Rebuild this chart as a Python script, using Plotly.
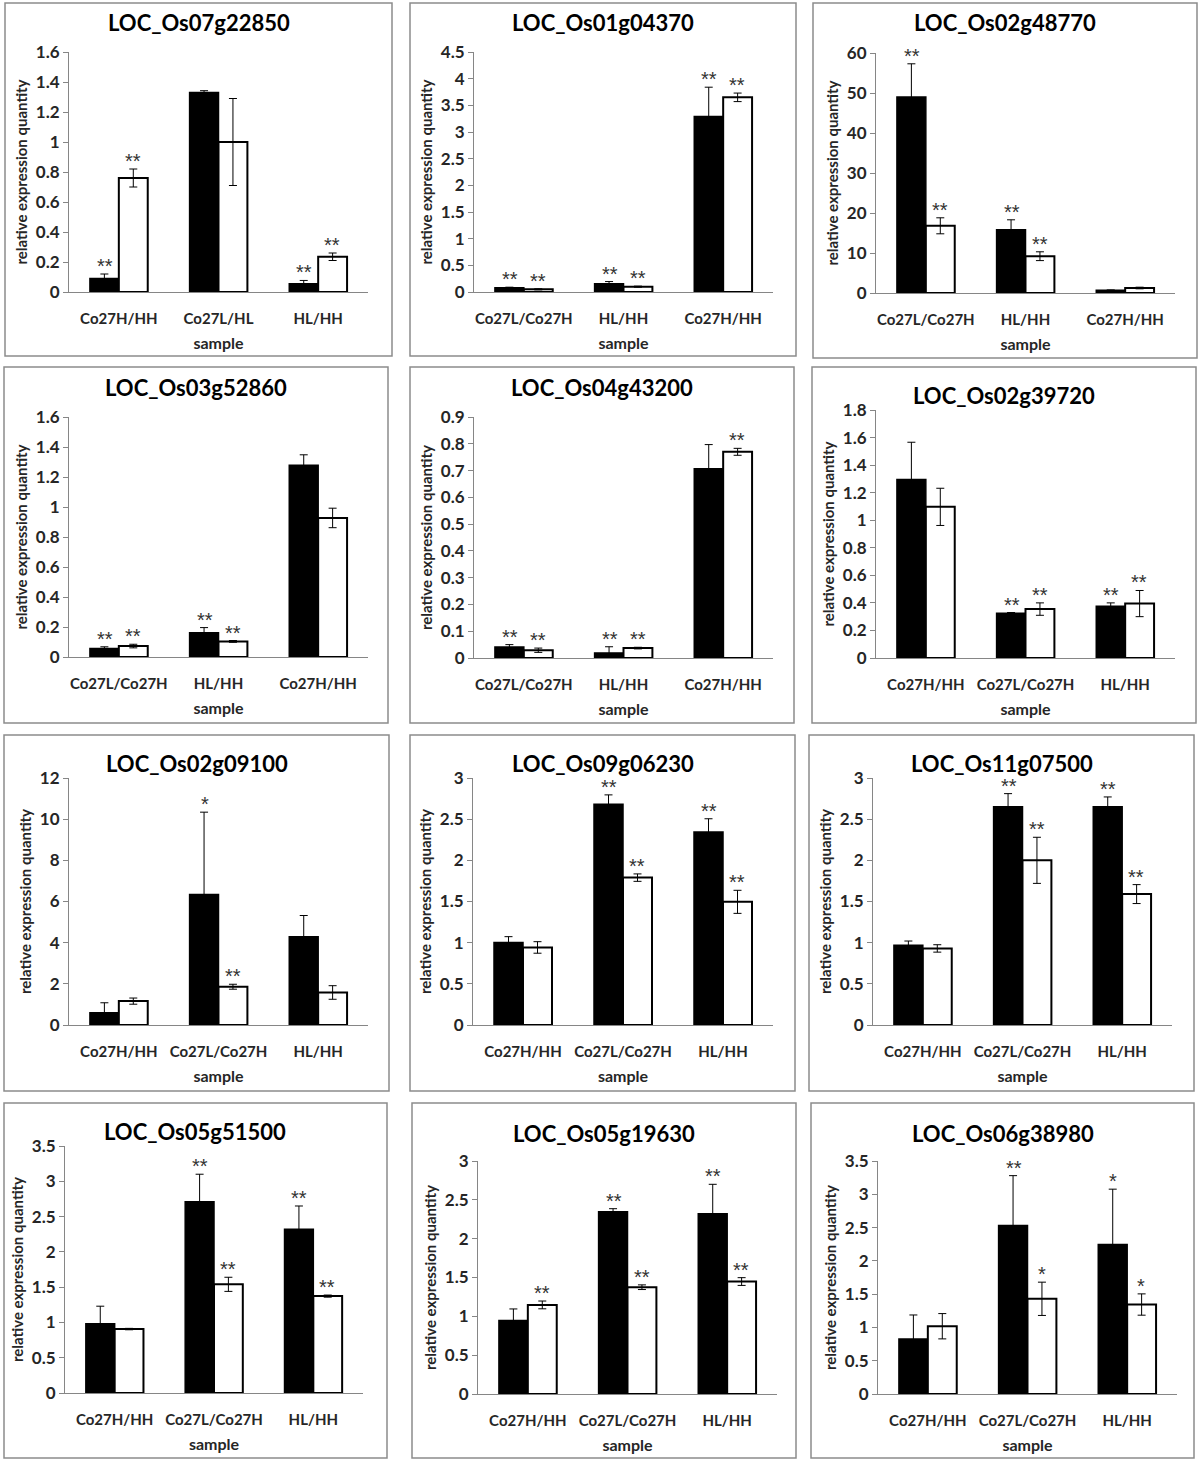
import plotly.graph_objects as go

# ---------------- data ----------------
genes = ["LOC_Os07g22850", "LOC_Os01g04370", "LOC_Os02g48770",
         "LOC_Os03g52860", "LOC_Os04g43200", "LOC_Os02g39720",
         "LOC_Os02g09100", "LOC_Os09g06230", "LOC_Os11g07500",
         "LOC_Os05g51500", "LOC_Os05g19630", "LOC_Os06g38980"]

cats_a = ["Co27H/HH", "Co27L/HL", "HL/HH"]
cats_b = ["Co27L/Co27H", "HL/HH", "Co27H/HH"]
cats_c = ["Co27H/HH", "Co27L/Co27H", "HL/HH"]
panel_cats = [cats_a, cats_b, cats_b, cats_b, cats_b, cats_c,
              cats_c, cats_c, cats_c, cats_c, cats_c, cats_c]

black_vals = [
    [0.09, 1.33, 0.055],
    [0.08, 0.156, 3.29],
    [49.0, 15.8, 0.67],
    [0.056, 0.162, 1.278],
    [0.041, 0.019, 0.707],
    [1.296, 0.325, 0.375],
    [0.6, 6.34, 4.29],
    [1.003, 2.68, 2.345],
    [0.97, 2.65, 2.65],
    [0.98, 2.71, 2.32],
    [0.945, 2.346, 2.32],
    [0.827, 2.53, 2.247],
]
black_err = [
    [0.03, 0.012, 0.022],
    [0.01, 0.04, 0.55],
    [8.3, 2.5, 0.1],
    [0.012, 0.034, 0.07],
    [0.009, 0.023, 0.09],
    [0.27, 0.005, 0.025],
    [0.48, 4.0, 1.03],
    [0.07, 0.115, 0.16],
    [0.05, 0.16, 0.12],
    [0.25, 0.39, 0.33],
    [0.15, 0.04, 0.38],
    [0.36, 0.75, 0.83],
]
white_vals = [
    [0.76, 1.0, 0.235],
    [0.05, 0.10, 3.65],
    [16.8, 9.2, 1.25],
    [0.073, 0.104, 0.927],
    [0.029, 0.037, 0.77],
    [1.097, 0.355, 0.395],
    [1.16, 1.86, 1.58],
    [0.942, 1.79, 1.496],
    [0.93, 2.0, 1.59],
    [0.906, 1.54, 1.373],
    [1.147, 1.375, 1.448],
    [1.018, 1.43, 1.344],
]
white_err = [
    [0.06, 0.29, 0.025],
    [0.01, 0.01, 0.08],
    [2.0, 1.1, 0.2],
    [0.012, 0.006, 0.065],
    [0.008, 0.003, 0.013],
    [0.135, 0.045, 0.095],
    [0.15, 0.12, 0.33],
    [0.07, 0.045, 0.14],
    [0.045, 0.28, 0.115],
    [0.01, 0.1, 0.015],
    [0.05, 0.03, 0.05],
    [0.19, 0.25, 0.16],
]
black_sig = [
    ["**", "", "**"], ["**", "**", "**"], ["**", "**", ""],
    ["**", "**", ""], ["**", "**", ""], ["", "**", "**"],
    ["", "*", ""], ["", "**", "**"], ["", "**", "**"],
    ["", "**", "**"], ["", "**", "**"], ["", "**", "*"],
]
white_sig = [
    ["**", "", "**"], ["**", "**", "**"], ["**", "**", ""],
    ["**", "**", ""], ["**", "**", "**"], ["", "**", "**"],
    ["", "**", ""], ["", "**", "**"], ["", "**", "**"],
    ["", "**", "**"], ["**", "**", "**"], ["", "*", "*"],
]
y_max = [1.6, 4.5, 60, 1.6, 0.9, 1.8, 12, 3, 3, 3.5, 3, 3.5]
y_step = [0.2, 0.5, 10, 0.2, 0.1, 0.2, 2, 0.5, 0.5, 0.5, 0.5, 0.5]

y_title = "relative expression quantity"
x_title = "sample"

# ---------------- layout geometry (pixels) ----------------
W, H = 1200, 1464
boxes = [(5, 3, 392, 356), (410, 3, 796, 356), (813, 3, 1197, 358),
         (4, 367, 388, 723), (410, 367, 794, 723), (812, 367, 1196, 723),
         (4, 735, 389, 1091), (410, 735, 795, 1091), (809, 735, 1194, 1091),
         (4, 1103, 387, 1458), (412, 1103, 796, 1458), (811, 1103, 1194, 1458)]
plots = [(69, 368, 292, 52), (474, 773, 292, 52), (876, 1175, 293, 53),
         (69, 368, 657, 417), (474, 773, 658, 417), (876, 1175, 658, 410),
         (69, 368, 1025, 778), (473, 773, 1025, 778), (873, 1172, 1025, 778),
         (65, 363, 1393, 1146), (478, 777, 1394, 1161), (878, 1177, 1394, 1161)]
title_y = [23, 23, 23, 387, 387, 395, 763, 763, 763, 1131, 1133, 1133]

FONT = "Lato"
TXT = "#262626"
AXC = "#868686"

fig = go.Figure()
shapes = []
annotations = []
layout_axes = {}

for i in range(12):
    n = i + 1
    xa = "x" if n == 1 else f"x{n}"
    ya = "y" if n == 1 else f"y{n}"
    cats = panel_cats[i]
    fig.add_trace(go.Bar(
        x=cats, y=black_vals[i], xaxis=xa, yaxis=ya, showlegend=False,
        marker=dict(color="black", line=dict(color="black", width=1.5)),
        error_y=dict(type="data", array=black_err[i], symmetric=True,
                     color="black", thickness=1, width=4),
        offsetgroup="b"))
    fig.add_trace(go.Bar(
        x=cats, y=white_vals[i], xaxis=xa, yaxis=ya, showlegend=False,
        marker=dict(color="white", line=dict(color="black", width=2)),
        error_y=dict(type="data", array=white_err[i], symmetric=True,
                     color="black", thickness=1, width=4),
        offsetgroup="w"))

    xl, xr, yb, yt = plots[i]
    xkey = "xaxis" if n == 1 else f"xaxis{n}"
    ykey = "yaxis" if n == 1 else f"yaxis{n}"
    layout_axes[xkey] = dict(
        domain=[xl / W, xr / W], anchor=ya, type="category",
        categoryorder="array", categoryarray=cats,
        showline=True, linecolor=AXC, linewidth=1, showgrid=False,
        zeroline=False, ticks="", ticklabelstandoff=13, automargin=False,
        tickfont=dict(family=FONT, size=15, color=TXT, weight="bold"),
        title=dict(text=x_title, standoff=11,
                   font=dict(family=FONT, size=16, color=TXT, weight="bold")),
        fixedrange=True)
    layout_axes[ykey] = dict(
        domain=[1 - yb / H, 1 - yt / H], anchor=xa,
        range=[0, y_max[i]], tick0=0, dtick=y_step[i],
        showline=True, linecolor=AXC, linewidth=1, showgrid=False,
        zeroline=False, ticks="outside", ticklen=5, tickcolor=AXC,
        automargin=False,
        tickfont=dict(family=FONT, size=17, color=TXT, weight="bold"),
        title=dict(text=y_title, standoff=4,
                   font=dict(family=FONT, size=15, color=TXT, weight="bold")),
        fixedrange=True)

    bx0, by0, bx1, by1 = boxes[i]
    shapes.append(dict(type="rect", xref="paper", yref="paper",
                       x0=bx0 / W, x1=bx1 / W, y0=1 - by0 / H, y1=1 - by1 / H,
                       line=dict(color="#8c8c8c", width=1.5), layer="below"))
    annotations.append(dict(
        text=genes[i], xref="paper", yref="paper",
        x=(bx0 + bx1) / 2 / W, y=1 - title_y[i] / H,
        xanchor="center", yanchor="middle", showarrow=False,
        font=dict(family=FONT, size=22, color="black", weight="bold")))

    for j, c in enumerate(cats):
        for sig, vals, errs, shift in ((black_sig, black_vals, black_err, -14),
                                       (white_sig, white_vals, white_err, 14)):
            s = sig[i][j]
            if s:
                annotations.append(dict(
                    text=s, xref=xa, yref=ya, x=c, y=vals[i][j] + errs[i][j],
                    xshift=shift, yshift=-5, xanchor="center", yanchor="bottom",
                    showarrow=False,
                    font=dict(family="Liberation Sans", size=20, color="#333333")))

fig.update_layout(
    width=W, height=H, autosize=False,
    margin=dict(l=0, r=0, t=0, b=0, pad=0, autoexpand=False),
    paper_bgcolor="white", plot_bgcolor="white",
    barmode="group", bargap=0.42, bargroupgap=0,
    shapes=shapes, annotations=annotations,
    **layout_axes)

page_fix = """
var d = document.documentElement, b = document.body;
[d, b].forEach(function (e) {
  e.style.margin = '0'; e.style.padding = '0'; e.style.overflow = 'hidden';
});
"""

fig.write_html("out.html", config={"displayModeBar": False},
               post_script=page_fix)
